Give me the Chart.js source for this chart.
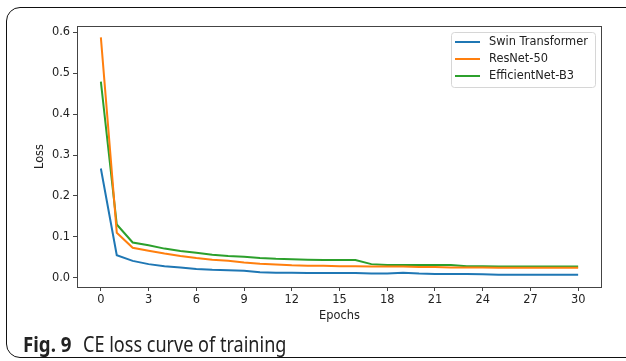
<!DOCTYPE html>
<html>
<head>
<meta charset="utf-8">
<script src="https://cdn.jsdelivr.net/npm/chart.js@4/dist/chart.umd.min.js"></script>
<style>
  html, body { margin: 0; padding: 0; background: #fff; }
  #wrap { position: relative; width: 626px; height: 361px; overflow: hidden; }
  #frame { position: absolute; left: 6px; top: 7px; width: 640px; height: 351px;
           border: 1.5px solid #111; border-radius: 14px; box-sizing: border-box; }
  #myChart { position: absolute; left: 0; top: 0; }
  .cap { position: absolute; top: 334px; font-family: "Noto Sans", sans-serif;
         font-size: 21px; line-height: 21px; color: #222; white-space: nowrap;
         transform-origin: 0 0; }
  #capB { left: 23px; font-weight: bold; transform: scaleX(0.89); }
  #capR { left: 83px; transform: scaleX(0.86); }
</style>
</head>
<body>
<div id="wrap">
  <div id="frame"></div>
  <canvas id="myChart" width="626" height="361"></canvas>
  <div class="cap" id="capB">Fig. 9</div>
  <div class="cap" id="capR">CE loss curve of training</div>
</div>
<script>
let epochs = [];
for (let i = 0; i <= 30; i++) epochs.push(i);

let swin = [0.267, 0.055, 0.041, 0.033, 0.028, 0.025, 0.021, 0.019, 0.018, 0.017,
            0.013, 0.012, 0.012, 0.011, 0.011, 0.011, 0.011, 0.010, 0.010, 0.012,
            0.010, 0.009, 0.009, 0.009, 0.008, 0.007, 0.007, 0.007, 0.007, 0.007, 0.007];
let resnet = [0.588, 0.110, 0.073, 0.066, 0.059, 0.053, 0.048, 0.044, 0.041, 0.037,
              0.034, 0.032, 0.030, 0.029, 0.029, 0.028, 0.028, 0.027, 0.027, 0.027,
              0.026, 0.026, 0.025, 0.025, 0.025, 0.024, 0.024, 0.024, 0.024, 0.024, 0.024];
let effnet = [0.480, 0.130, 0.086, 0.079, 0.071, 0.065, 0.061, 0.056, 0.053, 0.051,
              0.048, 0.046, 0.045, 0.044, 0.043, 0.043, 0.043, 0.033, 0.031, 0.031,
              0.031, 0.031, 0.031, 0.028, 0.028, 0.027, 0.027, 0.027, 0.027, 0.027, 0.027];

let xTicks = [0, 3, 6, 9, 12, 15, 18, 21, 24, 27, 30];
let yTicks = [0.0, 0.1, 0.2, 0.3, 0.4, 0.5, 0.6];

const tickFont = { family: 'DejaVu Sans', size: 11.4 };

// spines, axis titles and a matplotlib-like legend
const mplExtras = {
  id: 'mplExtras',
  afterDraw(chart) {
    const ctx = chart.ctx, a = chart.chartArea;
    ctx.save();
    ctx.strokeStyle = '#444';
    ctx.lineWidth = 1;
    ctx.strokeRect(a.left + 0.5, a.top + 0.5, a.right - a.left - 1, a.bottom - a.top);

    ctx.fillStyle = '#222';
    ctx.font = '11.4px "DejaVu Sans"';
    ctx.textAlign = 'center';
    ctx.textBaseline = 'middle';
    ctx.fillText('Epochs', (a.left + a.right) / 2, 316);
    ctx.save();
    ctx.translate(40, (a.top + a.bottom) / 2);
    ctx.rotate(-Math.PI / 2);
    ctx.fillText('Loss', 0, 0);
    ctx.restore();

    // legend
    const lx = 451, ly = 32, lw = 144, lh = 55;
    ctx.beginPath();
    ctx.roundRect(lx + 0.5, ly + 0.5, lw, lh, 3);
    ctx.fillStyle = 'rgba(255,255,255,0.8)';
    ctx.fill();
    ctx.strokeStyle = '#d6d6d6';
    ctx.stroke();
    ctx.font = '11.4px "DejaVu Sans"';
    ctx.textAlign = 'left';
    chart.data.datasets.forEach((ds, i) => {
      const y = 42 + i * 17;
      ctx.strokeStyle = ds.borderColor;
      ctx.lineWidth = 2;
      ctx.beginPath();
      ctx.moveTo(455, y);
      ctx.lineTo(480, y);
      ctx.stroke();
      ctx.fillStyle = '#222';
      ctx.fillText(ds.label, 489, y);
    });
    ctx.restore();
  }
};

let myChart = document.getElementById('myChart').getContext('2d');

let lossChart = new Chart(myChart, {
  type: 'line',
  data: {
    labels: epochs,
    datasets: [
      { label: 'Swin Transformer', data: swin, borderColor: '#1f77b4' },
      { label: 'ResNet-50', data: resnet, borderColor: '#ff7f0e' },
      { label: 'EfficientNet-B3', data: effnet, borderColor: '#2ca02c' }
    ]
  },
  options: {
    responsive: false,
    animation: false,
    layout: { padding: { left: 0, top: 26, right: 24, bottom: 0 } },
    elements: {
      line: { borderWidth: 2, tension: 0, fill: false },
      point: { radius: 0 }
    },
    plugins: { legend: { display: false }, tooltip: { enabled: false } },
    scales: {
      x: {
        type: 'linear',
        min: -1.5,
        max: 31.5,
        afterBuildTicks: (s) => { s.ticks = xTicks.map(v => ({ value: v })); },
        afterFit: (s) => { s.height = 74; },
        grid: { drawOnChartArea: false, drawTicks: true, tickLength: 4, color: '#444' },
        border: { display: false },
        ticks: { font: tickFont, color: '#222', padding: 2, maxRotation: 0 }
      },
      y: {
        min: -0.023,
        max: 0.616,
        afterBuildTicks: (s) => { s.ticks = yTicks.map(v => ({ value: v })); },
        afterFit: (s) => { s.width = 77; },
        grid: { drawOnChartArea: false, drawTicks: true, tickLength: 4, color: '#444' },
        border: { display: false },
        ticks: { font: tickFont, color: '#222', padding: 3, callback: (v) => v.toFixed(1) }
      }
    }
  },
  plugins: [mplExtras]
});
</script>
</body>
</html>
